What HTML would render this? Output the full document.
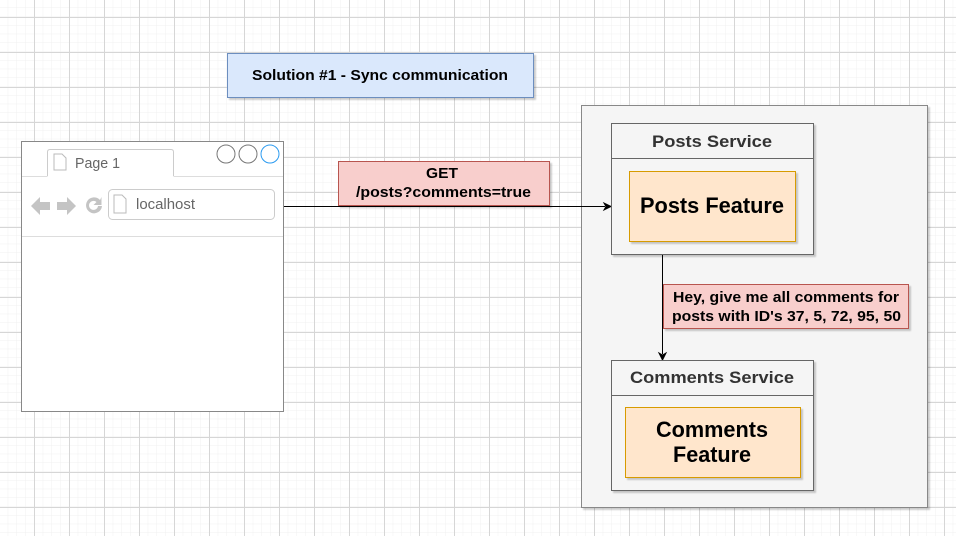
<!DOCTYPE html>
<html><head><style>
body{margin:0;width:956px;height:536px;overflow:hidden;background:#fff;font-family:"Liberation Sans",Arial,sans-serif}
</style></head><body>
<svg width="956" height="536" xmlns="http://www.w3.org/2000/svg" font-family="Liberation Sans, Arial, sans-serif">
<defs>
<pattern id="mi" x="-1" y="-1.25" width="8.75" height="8.75" patternUnits="userSpaceOnUse"><path d="M0 0H8.75M0 0V8.75" stroke="#f0f0f0" stroke-width="1" fill="none"/></pattern>
<pattern id="ma" x="34" y="17" width="35" height="35" patternUnits="userSpaceOnUse"><path d="M0 0.5H35M0.5 0V35" stroke="#d6d6d6" stroke-width="1" fill="none"/></pattern>
<filter id="sh"><feDropShadow dx="2" dy="2" stdDeviation="0.8" flood-color="#000" flood-opacity="0.2"/></filter>
</defs>
<rect width="956" height="536" fill="url(#mi)"/>
<rect width="956" height="536" fill="url(#ma)"/>

<rect x="227.5" y="53.5" width="306" height="44" fill="#dae8fc" stroke="#6c8ebf" filter="url(#sh)"/>
<text x="252" y="80" font-size="15" font-weight="bold" textLength="256" lengthAdjust="spacingAndGlyphs">Solution #1 - Sync communication</text>

<rect x="21.5" y="141.5" width="262" height="270" fill="#fff" stroke="#888"/>
<path d="M47.5 176 V152 Q47.5 149.5 50 149.5 H171 Q173.5 149.5 173.5 152 V176" fill="#fff" stroke="#ccc"/>
<path d="M22 176.5 H47.5 M173.5 176.5 H283" stroke="#ddd"/>
<path d="M22 236.5 H283" stroke="#ddd"/>
<path d="M54 154 h8 l4 4 v12 h-12z" fill="#fff" stroke="#bbb"/>
<text x="75" y="168" font-size="15" fill="#666" textLength="45" lengthAdjust="spacingAndGlyphs">Page 1</text>
<circle cx="226" cy="154" r="9" fill="#fff" stroke="#777"/>
<circle cx="248" cy="154" r="9" fill="#fff" stroke="#777"/>
<circle cx="270" cy="154" r="9" fill="#fff" stroke="#2c9bf0"/>
<path d="M31 206 l9-9 v5 h10 v8 h-10 v5z" fill="#c4c4c4"/>
<path d="M76 206 l-9-9 v5 h-10 v8 h10 v5z" fill="#c4c4c4"/>
<path d="M100 200 a8 8 0 1 0 2 6 h-4 a4.5 4.5 0 1 1 -1.5 -4 l-3 3 h8 v-8z" fill="#c4c4c4"/>
<rect x="108.5" y="189.5" width="166" height="30" rx="4" fill="#fff" stroke="#ccc"/>
<path d="M114 195 h8 l4 4 v14 h-12z" fill="#fff" stroke="#bbb"/>
<text x="136" y="209" font-size="15" fill="#666" textLength="59" lengthAdjust="spacingAndGlyphs">localhost</text>

<rect x="581.5" y="105.5" width="346" height="402" fill="#f5f5f5" stroke="#888" filter="url(#sh)"/>

<path d="M284 206.5 H605" stroke="#000"/>
<path d="M611 206.5 l-7 -3.5 2 3.5 -2 3.5z" fill="#000" stroke="#000"/>
<rect x="338.5" y="161.5" width="211" height="44" fill="#f8cecc" stroke="#b85450" filter="url(#sh)"/>
<text x="426" y="178" font-size="15" font-weight="bold" textLength="32" lengthAdjust="spacingAndGlyphs">GET</text>
<text x="356" y="197" font-size="15" font-weight="bold" textLength="175" lengthAdjust="spacingAndGlyphs">/posts?comments=true</text>

<rect x="611.5" y="123.5" width="202" height="131" fill="#f5f5f5" stroke="#666" filter="url(#sh)"/>
<path d="M611.5 158.5 H813.5" stroke="#666"/>
<text x="652" y="147" font-size="17" font-weight="bold" fill="#333" textLength="120" lengthAdjust="spacingAndGlyphs">Posts Service</text>
<rect x="629.5" y="171.5" width="166" height="70" fill="#ffe6cc" stroke="#d79b00" filter="url(#sh)"/>
<text x="640" y="213" font-size="22" font-weight="bold" textLength="144" lengthAdjust="spacingAndGlyphs">Posts Feature</text>

<path d="M662.5 255 V354" stroke="#000"/>
<path d="M662.5 360 l-3.5 -7 3.5 2 3.5 -2z" fill="#000" stroke="#000"/>
<rect x="663.5" y="284.5" width="245" height="44" fill="#f8cecc" stroke="#b85450" filter="url(#sh)"/>
<text x="673" y="302" font-size="15" font-weight="bold" textLength="226" lengthAdjust="spacingAndGlyphs">Hey, give me all comments for</text>
<text x="672" y="321" font-size="15" font-weight="bold" textLength="229" lengthAdjust="spacingAndGlyphs">posts with ID's 37, 5, 72, 95, 50</text>

<rect x="611.5" y="360.5" width="202" height="130" fill="#f5f5f5" stroke="#666" filter="url(#sh)"/>
<path d="M611.5 395.5 H813.5" stroke="#666"/>
<text x="630" y="383" font-size="17" font-weight="bold" fill="#333" textLength="164" lengthAdjust="spacingAndGlyphs">Comments Service</text>
<rect x="625.5" y="407.5" width="175" height="70" fill="#ffe6cc" stroke="#d79b00" filter="url(#sh)"/>
<text x="656" y="437" font-size="22" font-weight="bold" textLength="112" lengthAdjust="spacingAndGlyphs">Comments</text>
<text x="673" y="462" font-size="22" font-weight="bold" textLength="78" lengthAdjust="spacingAndGlyphs">Feature</text>
</svg>
</body></html>
